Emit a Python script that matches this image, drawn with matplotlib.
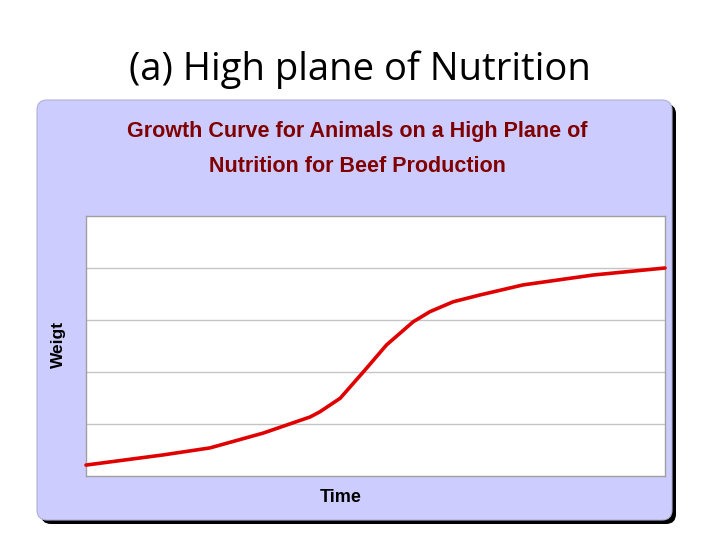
import matplotlib
matplotlib.use("Agg")
import matplotlib.pyplot as plt
from matplotlib.patches import FancyBboxPatch

# Data (time in % of period, weight in % of axis)
time = [0, 13.3, 21.4, 30.6, 38.7, 40.4, 43.9, 48.2, 51.9, 56.5, 59.4, 63.4, 68.0, 75.5, 87.6, 100]
weight = [4.2, 8.1, 10.8, 16.5, 22.7, 24.7, 29.9, 40.8, 50.4, 59.3, 63.2, 67.0, 69.6, 73.5, 77.3, 80]
slide_title = "(a) High plane of Nutrition"
chart_title = "Growth Curve for Animals on a High Plane of\nNutrition for Beef Production"
x_label = "Time"
y_label = "Weigt"

W, H = 720, 540
fig = plt.figure(figsize=(7.2, 5.4), dpi=100)
fig.patch.set_facecolor("white")

bg = fig.add_axes([0, 0, 1, 1])
bg.set_xlim(0, W)
bg.set_ylim(H, 0)
bg.axis("off")

# shadow
bg.add_patch(FancyBboxPatch((41 + 10, 104 + 10), 635 - 20, 420 - 20,
                            boxstyle="round,pad=10", fc="black", ec="none", zorder=1))
# lavender box
bg.add_patch(FancyBboxPatch((37 + 10, 100 + 10), 635 - 20, 420 - 20,
                            boxstyle="round,pad=10", fc="#CCCCFF", ec="#B0B0D8", lw=0.8, zorder=2))

bg.text(360, 70, slide_title, ha="center", va="center", fontsize=27.5,
        family="Open Sans", color="black")
bg.text(357, 149, chart_title, ha="center", va="center", fontsize=15.5,
        family="Liberation Sans", weight="bold", color="#800000", linespacing=1.9)
bg.text(58, 344, y_label, ha="center", va="center", rotation=90, fontsize=12.5,
        family="Liberation Sans", weight="bold", color="black")
bg.text(341, 497, x_label, ha="center", va="center", fontsize=13,
        family="Liberation Sans", weight="bold", color="black")

ax = fig.add_axes([86 / W, (H - 476) / H, 579 / W, 260 / H])
ax.set_facecolor("white")
ax.plot(time, weight, color="#E00000", lw=2.6, solid_joinstyle="round",
        solid_capstyle="round", zorder=3, clip_on=False)
ax.set_xlim(0, 100)
ax.set_ylim(0, 100)
ax.set_yticks([20, 40, 60, 80])
ax.set_xticks([])
ax.grid(axis="y", color="#C4C4C4", lw=1.0)
ax.tick_params(left=False, labelleft=False)
for s in ax.spines.values():
    s.set_color("#A0A0A0")
    s.set_linewidth(1.0)

fig.savefig("out.png", dpi=100)
